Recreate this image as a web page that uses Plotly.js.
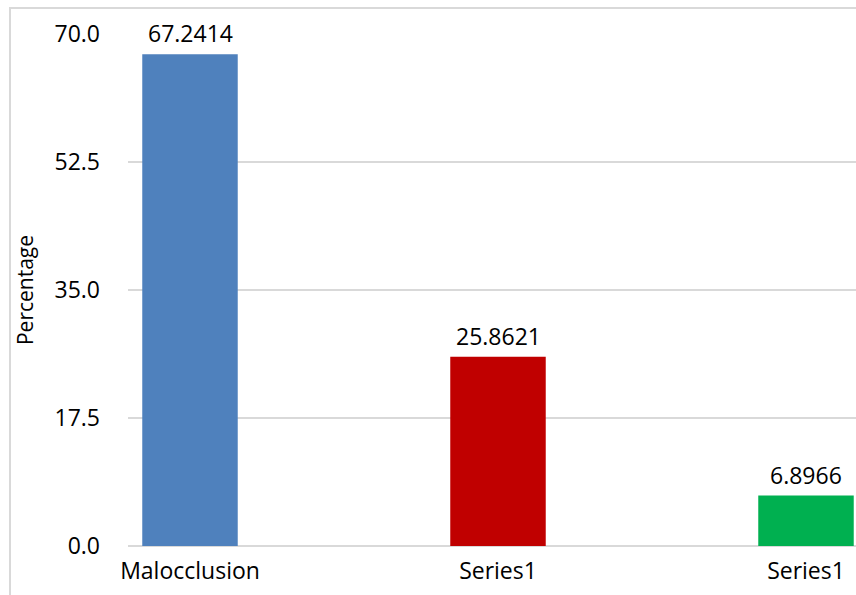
<!DOCTYPE html>
<html>
<head>
<meta charset="utf-8">
<script src="https://cdn.plot.ly/plotly-3.0.1.min.js"></script>
<style>
html,body{margin:0;padding:0;overflow:hidden;background:#fff;width:856px;height:595px;}
#frame{position:absolute;left:9px;top:7px;border:2px solid #d9d9d9;width:969px;height:640px;}
#chart{position:absolute;left:0;top:0;}
</style>
</head>
<body>
<div id="frame"><div id="chart"></div></div>
<script>
const categories = ["Malocclusion", "Series1", "Series1"];
const values = [67.2414, 25.8621, 6.8966];
const labels = ["67.2414", "25.8621", "6.8966"];
const colors = ["#4f81bd", "#c00000", "#00b050"];
const yTicks = [0, 17.5, 35, 52.5, 70];
const yTickText = ["0.0", "17.5", "35.0", "52.5", "70.0"];

const positions = categories.map((c, i) => i);
const font = "Open Sans, sans-serif";

const trace = {
  type: "bar",
  x: positions,
  y: values,
  width: 0.31,
  marker: {color: colors},
  hoverinfo: "skip"
};

const annotations = positions.map((p, i) => ({
  x: p, y: values[i], xref: "x", yref: "y",
  text: labels[i], showarrow: false,
  yanchor: "bottom", yshift: 3,
  font: {family: font, size: 23, color: "#000"}
}));

const layout = {
  width: 969, height: 640,
  margin: {l: 117, r: 20, t: 25, b: 103},
  paper_bgcolor: "#fff", plot_bgcolor: "#fff",
  showlegend: false,
  font: {family: font, size: 23, color: "#000"},
  xaxis: {
    range: [-0.2013, 2.5],
    tickvals: positions, ticktext: categories,
    showgrid: false, zeroline: false, showline: false,
    ticks: "", ticklabelstandoff: 9,
    tickfont: {family: font, size: 23, color: "#000"}
  },
  yaxis: {
    range: [0, 70],
    tickvals: yTicks, ticktext: yTickText,
    showgrid: true, gridcolor: "#d9d9d9", gridwidth: 1.5,
    zeroline: true, zerolinecolor: "#d9d9d9", zerolinewidth: 2,
    showline: false, ticks: "", ticklabelstandoff: 27,
    tickfont: {family: font, size: 23, color: "#000"},
    title: {text: "Percentage", standoff: 18, font: {family: font, size: 21, color: "#000"}}
  },
  annotations: annotations
};

Plotly.newPlot("chart", [trace], layout, {displayModeBar: false, staticPlot: true});
</script>
</body>
</html>
